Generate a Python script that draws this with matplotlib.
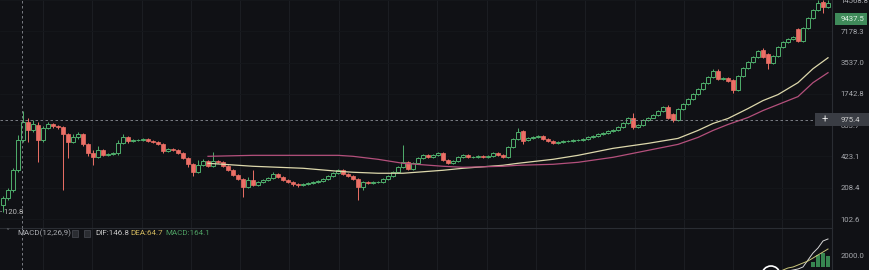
import numpy as np
import matplotlib
matplotlib.use('Agg')
import matplotlib.pyplot as plt
from matplotlib.patches import Rectangle, Arc
from matplotlib.ticker import NullLocator, FixedLocator
from matplotlib.transforms import blended_transform_factory

plt.rcParams['font.family'] = ['Roboto', 'DejaVu Sans']

# candle data (log price chart)
open_ = [140.7, 164.7, 197.2, 309.4, 608.1, 912.1, 761.7, 852.5, 608.1, 796.8,
         871.9, 833.5, 815.0, 696.1, 581.4, 650.6, 696.1, 555.8, 453.8, 414.7,
         485.5, 433.8, 443.7, 453.8, 568.5, 650.6, 594.7, 608.1, 608.1, 622.0,
         594.7, 581.4, 555.8, 474.7, 496.6, 485.5, 453.8, 405.5, 354.2, 295.8,
         346.3, 379.0, 338.6, 379.0, 370.5, 338.6, 309.4, 276.5, 252.6, 211.0,
         247.0, 220.7, 236.2, 247.0, 258.4, 282.8, 264.3, 247.0, 236.2, 225.7,
         220.7, 225.7, 230.9, 236.2, 241.5, 252.6, 270.3, 289.2, 309.4, 282.8,
         270.3, 252.6, 211.0, 236.2, 230.9, 236.2, 236.2, 252.6, 270.3, 295.8,
         331.0, 370.5, 316.5, 362.3, 405.5, 433.8, 414.7, 433.8, 453.8, 387.6,
         362.3, 379.0, 414.7, 433.8, 414.7, 414.7, 424.2, 414.7, 424.2, 453.8,
         433.8, 414.7, 519.5, 622.0, 744.8, 608.1, 636.2, 650.6, 665.5, 622.0,
         594.7, 568.5, 581.4, 594.7, 594.7, 608.1, 608.1, 622.0, 650.6, 665.5,
         696.1, 712.0, 744.8, 761.7, 815.0, 891.8, 1020.8, 815.0, 852.5, 954.1,
         1020.8, 1092, 1195, 1308, 1117, 954.1, 1250, 1399, 1566, 1753,
         1962, 2246, 2571, 2942, 2457, 2513, 2403, 1918, 2629, 3148,
         3604, 4033, 4721, 4315, 3524, 4124, 5051, 5653, 6049, 7577,
         5782, 7750, 9706, 11623, 13917, 12436]
close = [164.7, 197.2, 309.4, 608.1, 912.1, 761.7, 871.9, 608.1, 796.8, 871.9,
         833.5, 815.0, 696.1, 581.4, 650.6, 696.1, 555.8, 453.8, 414.7, 485.5,
         433.8, 443.7, 453.8, 568.5, 650.6, 594.7, 608.1, 608.1, 622.0, 594.7,
         581.4, 555.8, 474.7, 496.6, 485.5, 453.8, 405.5, 354.2, 295.8, 346.3,
         379.0, 338.6, 379.0, 370.5, 338.6, 309.4, 276.5, 252.6, 211.0, 247.0,
         220.7, 236.2, 247.0, 258.4, 282.8, 264.3, 247.0, 236.2, 225.7, 220.7,
         225.7, 230.9, 236.2, 241.5, 252.6, 270.3, 289.2, 309.4, 282.8, 270.3,
         252.6, 211.0, 236.2, 230.9, 236.2, 236.2, 252.6, 270.3, 295.8, 331.0,
         370.5, 316.5, 362.3, 405.5, 433.8, 414.7, 433.8, 453.8, 387.6, 362.3,
         379.0, 414.7, 433.8, 414.7, 414.7, 424.2, 414.7, 424.2, 453.8, 433.8,
         414.7, 519.5, 622.0, 728.2, 594.7, 636.2, 650.6, 665.5, 622.0, 594.7,
         568.5, 581.4, 594.7, 594.7, 608.1, 608.1, 622.0, 650.6, 665.5, 696.1,
         712.0, 744.8, 761.7, 815.0, 891.8, 998.1, 815.0, 852.5, 954.1, 1020.8,
         1092, 1195, 1308, 998.1, 954.1, 1250, 1399, 1566, 1753, 1962,
         2246, 2571, 2942, 2457, 2513, 2349, 1918, 2629, 3148, 3604,
         4033, 4616, 4033, 3524, 4124, 5051, 5653, 6049, 6328, 5782,
         7750, 9706, 11623, 13607, 12436, 13607]
high = [172.3, 206.3, 323.7, 680.6, 1195, 1020.8, 954.1, 912.1, 833.5, 912.1,
        891.8, 852.5, 833.5, 712.0, 696.1, 728.2, 712.0, 568.5, 485.5, 531.3,
        496.6, 453.8, 464.2, 608.1, 696.1, 665.5, 622.0, 622.0, 636.2, 636.2,
        608.1, 594.7, 568.5, 507.9, 507.9, 496.6, 464.2, 414.7, 362.3, 387.6,
        396.4, 387.6, 464.2, 387.6, 379.0, 346.3, 316.5, 282.8, 258.4, 264.3,
        309.4, 241.5, 252.6, 264.3, 295.8, 289.2, 270.3, 252.6, 241.5, 230.9,
        230.9, 236.2, 241.5, 247.0, 258.4, 276.5, 295.8, 316.5, 316.5, 289.2,
        276.5, 258.4, 241.5, 241.5, 241.5, 241.5, 258.4, 276.5, 302.5, 338.6,
        543.4, 379.0, 370.5, 414.7, 443.7, 443.7, 443.7, 464.2, 464.2, 396.4,
        387.6, 424.2, 443.7, 443.7, 424.2, 433.8, 433.8, 433.8, 464.2, 464.2,
        443.7, 531.3, 636.2, 796.8, 761.7, 650.6, 665.5, 680.6, 680.6, 636.2,
        608.1, 594.7, 608.1, 608.1, 622.0, 622.0, 636.2, 665.5, 680.6, 712.0,
        728.2, 761.7, 779.1, 833.5, 912.1, 1044, 1142, 871.9, 975.8, 1044,
        1117, 1222, 1338, 1368, 1142, 1279, 1431, 1602, 1793, 2006,
        2297, 2629, 3078, 3078, 2571, 2571, 2457, 2689, 3220, 3685,
        4124, 4721, 4939, 4413, 4218, 5166, 5782, 6187, 6472, 7750,
        7926, 9928, 11888, 14500, 14500, 14500]
low = [120.8, 157.4, 188.5, 295.8, 581.4, 581.4, 728.2, 370.5, 581.4, 779.1,
       796.8, 779.1, 197.2, 405.5, 568.5, 622.0, 531.3, 424.2, 346.3, 405.5,
       424.2, 424.2, 433.8, 433.8, 555.8, 568.5, 581.4, 594.7, 594.7, 581.4,
       568.5, 543.4, 453.8, 464.2, 474.7, 443.7, 396.4, 331.0, 270.3, 289.2,
       338.6, 331.0, 331.0, 362.3, 331.0, 302.5, 270.3, 247.0, 168.4, 206.3,
       215.8, 215.8, 230.9, 241.5, 252.6, 258.4, 241.5, 230.9, 215.8, 211.0,
       215.8, 220.7, 225.7, 230.9, 236.2, 247.0, 264.3, 282.8, 276.5, 264.3,
       247.0, 157.4, 197.2, 225.7, 225.7, 230.9, 230.9, 247.0, 264.3, 289.2,
       323.7, 309.4, 309.4, 354.2, 396.4, 405.5, 405.5, 424.2, 379.0, 354.2,
       354.2, 370.5, 405.5, 405.5, 405.5, 405.5, 405.5, 405.5, 414.7, 424.2,
       405.5, 405.5, 507.9, 608.1, 555.8, 594.7, 622.0, 636.2, 608.1, 581.4,
       555.8, 555.8, 568.5, 581.4, 581.4, 594.7, 594.7, 608.1, 636.2, 650.6,
       680.6, 696.1, 728.2, 744.8, 796.8, 871.9, 779.1, 796.8, 833.5, 932.9,
       998.1, 1068, 1168, 975.8, 912.1, 932.9, 1222, 1368, 1531, 1714,
       1918, 2196, 2513, 2403, 2403, 2297, 1793, 1875, 2571, 3078,
       3524, 3943, 3943, 3078, 3445, 4033, 4939, 5527, 5914, 5653,
       5653, 7577, 9490, 11364, 10863, 12159]

# moving averages, sampled at candle index
ma_idx = [41, 50, 60, 67, 70, 75, 80, 88, 92, 100, 103, 110, 115,
          122, 129, 135, 139, 142, 145, 149, 152, 155, 159, 162, 165]
ma_fast = [362.3, 338.6, 323.7, 302.5, 295.8, 289.2, 289.2, 309.4, 323.7, 346.3, 362.3, 396.4, 433.8,
           507.9, 568.5, 636.2, 761.7, 891.8, 998.1, 1250, 1497, 1714, 2246, 3078, 3943]
ma_slow = [424.2, 433.8, 433.8, 433.8, 424.2, 396.4, 362.3, 338.6, 331.0, 338.6, 346.3, 354.2, 370.5,
           414.7, 485.5, 555.8, 650.6, 761.7, 871.9, 1020.8, 1195, 1368, 1638, 2246, 2813]

# right axis labels
price_ticks = [102.6, 208.4, 423.1, 853.7, 1742.8, 3537.0, 7178.3, 14568.8]
last_price = 9437.5
cross_price = 975.4
cross_idx = 3.8

# MACD pane
dif_idx = [157, 158, 159, 160, 161, 162, 163, 164, 165]
dif = [-680, -500, -320, 40, 1290, 2540, 3430, 4680, 5040]
dea_idx = [156, 157, 158, 159, 160, 161, 162, 163, 164, 165]
dea = [-500, -140, 35, 390, 750, 1110, 1640, 2180, 2710, 3250]
hist_idx = [162, 163, 164, 165]
hist = [930, 2180, 2540, 2000]

BG = '#101115'
GREEN = '#4fae6c'
RED = '#ec6f66'
GRID = '#1b1d22'
TXT = '#a7a9ae'

open_ = np.array(open_)
close = np.array(close)
high = np.array(high)
low = np.array(low)
x = np.arange(len(close))
up = close >= open_

fig = plt.figure(figsize=(8.7, 2.7), dpi=100, facecolor=BG)
ax = fig.add_axes([0, 42/270, 832/870, 228/270], facecolor=BG)
mx = fig.add_axes([0, 0, 832/870, 42/270], facecolor=BG)

ax.set_yscale('log')
ax.set_ylim(83.8, 14234)
for a in (ax, mx):
    a.set_xlim(-0.6, 165.8)
    a.xaxis.set_major_locator(FixedLocator(8 + 9.86 * np.arange(17)))
    a.tick_params(axis='x', length=0, labelbottom=False)
    a.grid(True, axis='x', color=GRID, lw=0.8)
    for s in ('top', 'left', 'bottom'):
        a.spines[s].set_visible(False)
    a.spines['right'].set_color('#2a2d33')
    a.yaxis.tick_right()
    a.tick_params(axis='y', length=0, pad=6, labelsize=5.6, labelcolor=TXT)
mx.spines['top'].set_visible(True)
mx.spines['top'].set_color('#2a2d33')

ax.yaxis.set_minor_locator(NullLocator())
ax.set_yticks(price_ticks)
ax.set_yticklabels(['%.1f' % v for v in price_ticks])
ax.grid(True, axis='y', color='#15171b', lw=0.6)

# candles
ax.vlines(x[up], low[up], high[up], color=GREEN, lw=0.7, zorder=2)
ax.vlines(x[~up], low[~up], high[~up], color=RED, lw=0.7, zorder=2)
lo = np.minimum(open_, close)
hi = np.maximum(open_, close)
ax.bar(x[up], hi[up] - lo[up], bottom=lo[up], width=0.66, facecolor=BG,
       edgecolor=GREEN, lw=0.7, zorder=3)
ax.bar(x[~up], hi[~up] - lo[~up], bottom=lo[~up], width=0.66, facecolor=RED,
       edgecolor=RED, lw=0.5, zorder=3)

ax.plot(ma_idx, ma_fast, color='#ddd8ac', lw=0.9, zorder=4)
ax.plot(ma_idx, ma_slow, color='#b4507c', lw=0.9, zorder=4)

# crosshair
ax.axhline(cross_price, color='#8b8e95', lw=0.6, ls=(0, (3, 3)), zorder=5)
for a in (ax, mx):
    a.axvline(cross_idx, color='#8b8e95', lw=0.6, ls=(0, (3, 3)), zorder=5)

tr = blended_transform_factory(fig.transFigure, ax.transData)
ax.add_patch(Rectangle((815/870, cross_price/1.17), 55/870, cross_price*1.17 - cross_price/1.17,
                       transform=tr, facecolor='#3a3d44', edgecolor='none', clip_on=False, zorder=10))
ax.text(825/870, cross_price, '+', transform=tr, color='#e8e8e8', fontsize=8, ha='center', va='center', zorder=11)
ax.text(841/870, cross_price, '%.1f' % cross_price, transform=tr, color='#d0d0d0', fontsize=5.6,
        ha='left', va='center', zorder=11)

ax.add_patch(Rectangle((835/870, last_price/1.15), 32/870, last_price*1.15 - last_price/1.15,
                       transform=tr, facecolor='#3f8a5a', edgecolor='none', clip_on=False, zorder=10))
ax.text(841/870, last_price, '%.1f' % last_price, transform=tr, color='#dff2e4', fontsize=5.6,
        ha='left', va='center', zorder=11)
ax.text(-0.5, 120.8, '- 120.8', color='#b8b8b8', fontsize=5.6, ha='left', va='center', zorder=6)

# MACD pane
mx.set_ylim(-500, 7000)
mx.set_yticks([2000])
mx.set_yticklabels(['2000.0'])
mx.bar(hist_idx, hist, width=0.7, color='#3f9c5c', alpha=0.85, zorder=2)
mx.plot(dif_idx, dif, color='#d7d7d7', lw=0.7, zorder=3)
mx.plot(dea_idx, dea, color='#c9c57a', lw=0.7, zorder=3)

ty = 233
fig.text(7/870, 1 - ty/270, '\u02c5', color='#6a6d73', fontsize=6, ha='center', va='center')
fig.text(17/870, 1 - ty/270, 'MACD(12,26,9)', color='#a9abb0', fontsize=5.8, ha='left', va='center')
for bx in (72, 84):
    fig.add_artist(Rectangle((bx/870, 1 - 237/270), 6/870, 7/270, transform=fig.transFigure,
                             facecolor='#2a2c31', edgecolor='#4a4d54', lw=0.5))
fig.text(95/870, 1 - ty/270, 'DIF:146.8', color='#c6c6c6', fontsize=5.8, ha='left', va='center')
fig.text(130/870, 1 - ty/270, 'DEA:64.7', color='#cdb45c', fontsize=5.8, ha='left', va='center')
fig.text(165/870, 1 - ty/270, 'MACD:164.1', color='#4d9e62', fontsize=5.8, ha='left', va='center')

fig.add_artist(Arc((771/870, 1 - 275/270), 18/870, 18/270, theta1=20, theta2=170,
                   transform=fig.transFigure, color='white', lw=1.2))

fig.savefig('out.png', dpi=100, facecolor=BG)
